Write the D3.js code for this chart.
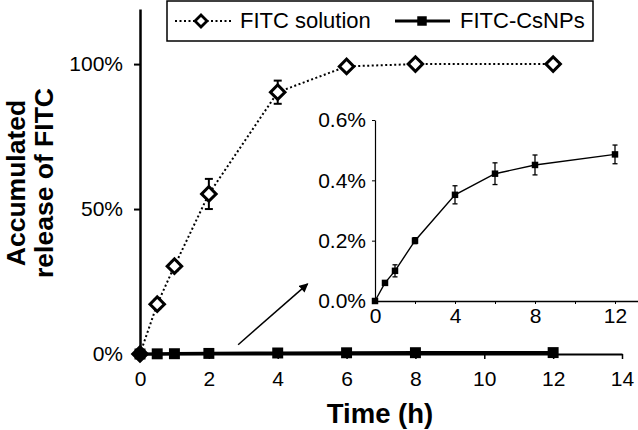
<!DOCTYPE html>
<html><head><meta charset="utf-8">
<script src="https://cdn.jsdelivr.net/npm/d3@7"></script>
<style>body{margin:0;background:#fff} text{font-family:"Liberation Sans",Arial,sans-serif;fill:#000}</style>
</head><body><svg id="c" width="638" height="430"></svg>
<script>
// ---- data ----
const times = [0, 0.5, 1, 2, 4, 6, 8, 12];
const solution = [0, 17.2, 30.3, 55.2, 90.3, 99.2, 100, 100];      // % FITC solution
const solutionErr = [0, 1.5, 1.5, 5.2, 4.0, 1.0, 0.5, 0];
const nps = [0, 0.06, 0.10, 0.20, 0.352, 0.422, 0.451, 0.486];    // % FITC-CsNPs
const npsErr = [0, 0.006, 0.02, 0.01, 0.03, 0.036, 0.033, 0.031];
const mainXTicks = [0, 2, 4, 6, 8, 10, 12, 14];
const mainYTicks = [0, 50, 100];
const insetXTicks = [0, 2, 4, 6, 8, 10, 12];
const insetXLabels = [0, 4, 8, 12];
const insetYTicks = [0, 0.2, 0.4, 0.6];
const seriesNames = ["FITC solution", "FITC-CsNPs"];

const svg = d3.select("#c");
const sol = times.map((t, i) => ({t, v: solution[i], e: solutionErr[i]}));
const np = times.map((t, i) => ({t, v: nps[i], e: npsErr[i]}));

// ---- main chart ----
const x = d3.scaleLinear().domain([0, 14]).range([140, 622]);
const y = d3.scaleLinear().domain([0, 119]).range([354, 9]);

const gx = svg.append("g").attr("transform", `translate(0,${y(0)})`)
  .call(d3.axisBottom(x).tickValues(mainXTicks).tickSize(5).tickSizeOuter(0).tickPadding(12));
gx.select(".domain").attr("stroke-width", 2);
gx.selectAll(".tick line").attr("stroke-width", 1.5);
gx.selectAll("text").attr("font-size", 21).attr("font-family", "Liberation Sans, Arial");

const gy = svg.append("g").attr("transform", `translate(${x(0)},0)`)
  .call(d3.axisLeft(y).tickValues(mainYTicks).tickFormat(d => d + "%").tickSize(6).tickSizeOuter(0).tickPadding(11));
gy.select(".domain").attr("stroke-width", 2.5);
gy.selectAll(".tick line").attr("stroke-width", 2);
gy.selectAll("text").attr("font-size", 21).attr("font-family", "Liberation Sans, Arial");

// solution dotted line
svg.append("path").datum(sol)
  .attr("d", d3.line().x(d => x(d.t)).y(d => y(d.v)))
  .attr("fill", "none").attr("stroke", "#000").attr("stroke-width", 2).attr("stroke-dasharray", "2,2.5");

// solution error bars
const eb = svg.append("g").attr("stroke", "#000").attr("stroke-width", 2);
sol.filter(d => d.e > 0).forEach(d => {
  eb.append("line").attr("x1", x(d.t)).attr("x2", x(d.t)).attr("y1", y(d.v - d.e)).attr("y2", y(d.v + d.e));
  [d.v - d.e, d.v + d.e].forEach(v => eb.append("line").attr("x1", x(d.t) - 4).attr("x2", x(d.t) + 4).attr("y1", y(v)).attr("y2", y(v)));
});

// diamonds
const diamond = d3.symbol().type(d3.symbolSquare).size(105);
svg.append("g").selectAll("path").data(sol).join("path")
  .attr("d", diamond)
  .attr("transform", d => `translate(${x(d.t)},${y(d.v)}) rotate(45)`)
  .attr("fill", "#fff").attr("stroke", "#000").attr("stroke-width", 3);

// nanoparticles line (main)
svg.append("path").datum(np)
  .attr("d", d3.line().x(d => x(d.t)).y(d => y(d.v)))
  .attr("fill", "none").attr("stroke", "#000").attr("stroke-width", 3.2);
const sq = d3.symbol().type(d3.symbolSquare).size(120);
svg.append("g").selectAll("path").data(np).join("path")
  .attr("d", sq).attr("transform", d => `translate(${x(d.t)},${y(d.v)})`).attr("fill", "#000");

// arrow
svg.append("defs").append("marker").attr("id", "ah").attr("viewBox", "0 0 10 10")
  .attr("refX", 9).attr("refY", 5).attr("markerWidth", 10).attr("markerHeight", 9)
  .attr("markerUnits", "userSpaceOnUse").attr("orient", "auto")
  .append("path").attr("d", "M0,0L10,5L0,10Z").attr("fill", "#000");
svg.append("line").attr("x1", x(2.85)).attr("y1", y(3.2)).attr("x2", x(4.87)).attr("y2", y(24.2))
  .attr("stroke", "#000").attr("stroke-width", 1.5).attr("marker-end", "url(#ah)");

// ---- inset ----
const x2 = d3.scaleLinear().domain([0, 13.15]).range([375, 638]);
const y2 = d3.scaleLinear().domain([0, 0.6]).range([301, 120]);

const ix = svg.append("g").attr("transform", `translate(0,${y2(0)})`)
  .call(d3.axisBottom(x2).tickValues(insetXTicks).tickFormat(d => insetXLabels.includes(d) ? d : "")
    .tickSize(3).tickSizeOuter(0).tickPadding(4));
ix.select(".domain").attr("stroke-width", 1.3);
ix.selectAll("text").attr("font-size", 21).attr("font-family", "Liberation Sans, Arial");

const iy = svg.append("g").attr("transform", `translate(${x2(0)},0)`)
  .call(d3.axisLeft(y2).tickValues(insetYTicks).tickFormat(d => d.toFixed(1) + "%").tickSize(3).tickSizeOuter(0).tickPadding(6));
iy.select(".domain").attr("stroke-width", 1.2);
iy.selectAll("text").attr("font-size", 21).attr("font-family", "Liberation Sans, Arial");

svg.append("path").datum(np)
  .attr("d", d3.line().x(d => x2(d.t)).y(d => y2(d.v)))
  .attr("fill", "none").attr("stroke", "#000").attr("stroke-width", 1.4);
const ieb = svg.append("g").attr("stroke", "#000").attr("stroke-width", 1.3);
np.filter(d => d.e > 0).forEach(d => {
  ieb.append("line").attr("x1", x2(d.t)).attr("x2", x2(d.t)).attr("y1", y2(d.v - d.e)).attr("y2", y2(d.v + d.e));
  [d.v - d.e, d.v + d.e].forEach(v => ieb.append("line").attr("x1", x2(d.t) - 2.5).attr("x2", x2(d.t) + 2.5).attr("y1", y2(v)).attr("y2", y2(v)));
});
const isq = d3.symbol().type(d3.symbolSquare).size(42);
svg.append("g").selectAll("path").data(np).join("path")
  .attr("d", isq).attr("transform", d => `translate(${x2(d.t)},${y2(d.v)})`).attr("fill", "#000");

// ---- legend ----
const lg = svg.append("g");
lg.append("rect").attr("x", 167).attr("y", 1).attr("width", 426).attr("height", 40)
  .attr("fill", "#fff").attr("stroke", "#000").attr("stroke-width", 1.5);
lg.append("line").attr("x1", 175).attr("x2", 232).attr("y1", 21).attr("y2", 21)
  .attr("stroke", "#000").attr("stroke-width", 2).attr("stroke-dasharray", "2,2.5");
lg.append("path").attr("d", d3.symbol().type(d3.symbolSquare).size(72))
  .attr("transform", "translate(201,21) rotate(45)").attr("fill", "#fff").attr("stroke", "#000").attr("stroke-width", 2.8);
lg.append("text").attr("x", 240).attr("y", 28).attr("font-size", 22).text(seriesNames[0]);
lg.append("line").attr("x1", 395).attr("x2", 450).attr("y1", 21).attr("y2", 21)
  .attr("stroke", "#000").attr("stroke-width", 3.2);
lg.append("path").attr("d", d3.symbol().type(d3.symbolSquare).size(90))
  .attr("transform", "translate(422,21)").attr("fill", "#000");
lg.append("text").attr("x", 460).attr("y", 28).attr("font-size", 22).text(seriesNames[1]);

// ---- titles ----
svg.append("text").attr("x", 380).attr("y", 423).attr("text-anchor", "middle")
  .attr("font-size", 27.5).attr("font-weight", "bold").text("Time (h)");
[["Accumulated", 25], ["release of FITC", 53]].forEach(([t, bx]) => {
  svg.append("text").attr("transform", `translate(${bx},183) rotate(-90)`).attr("text-anchor", "middle")
    .attr("font-size", 26.5).attr("font-weight", "bold").text(t);
});
</script></body></html>
